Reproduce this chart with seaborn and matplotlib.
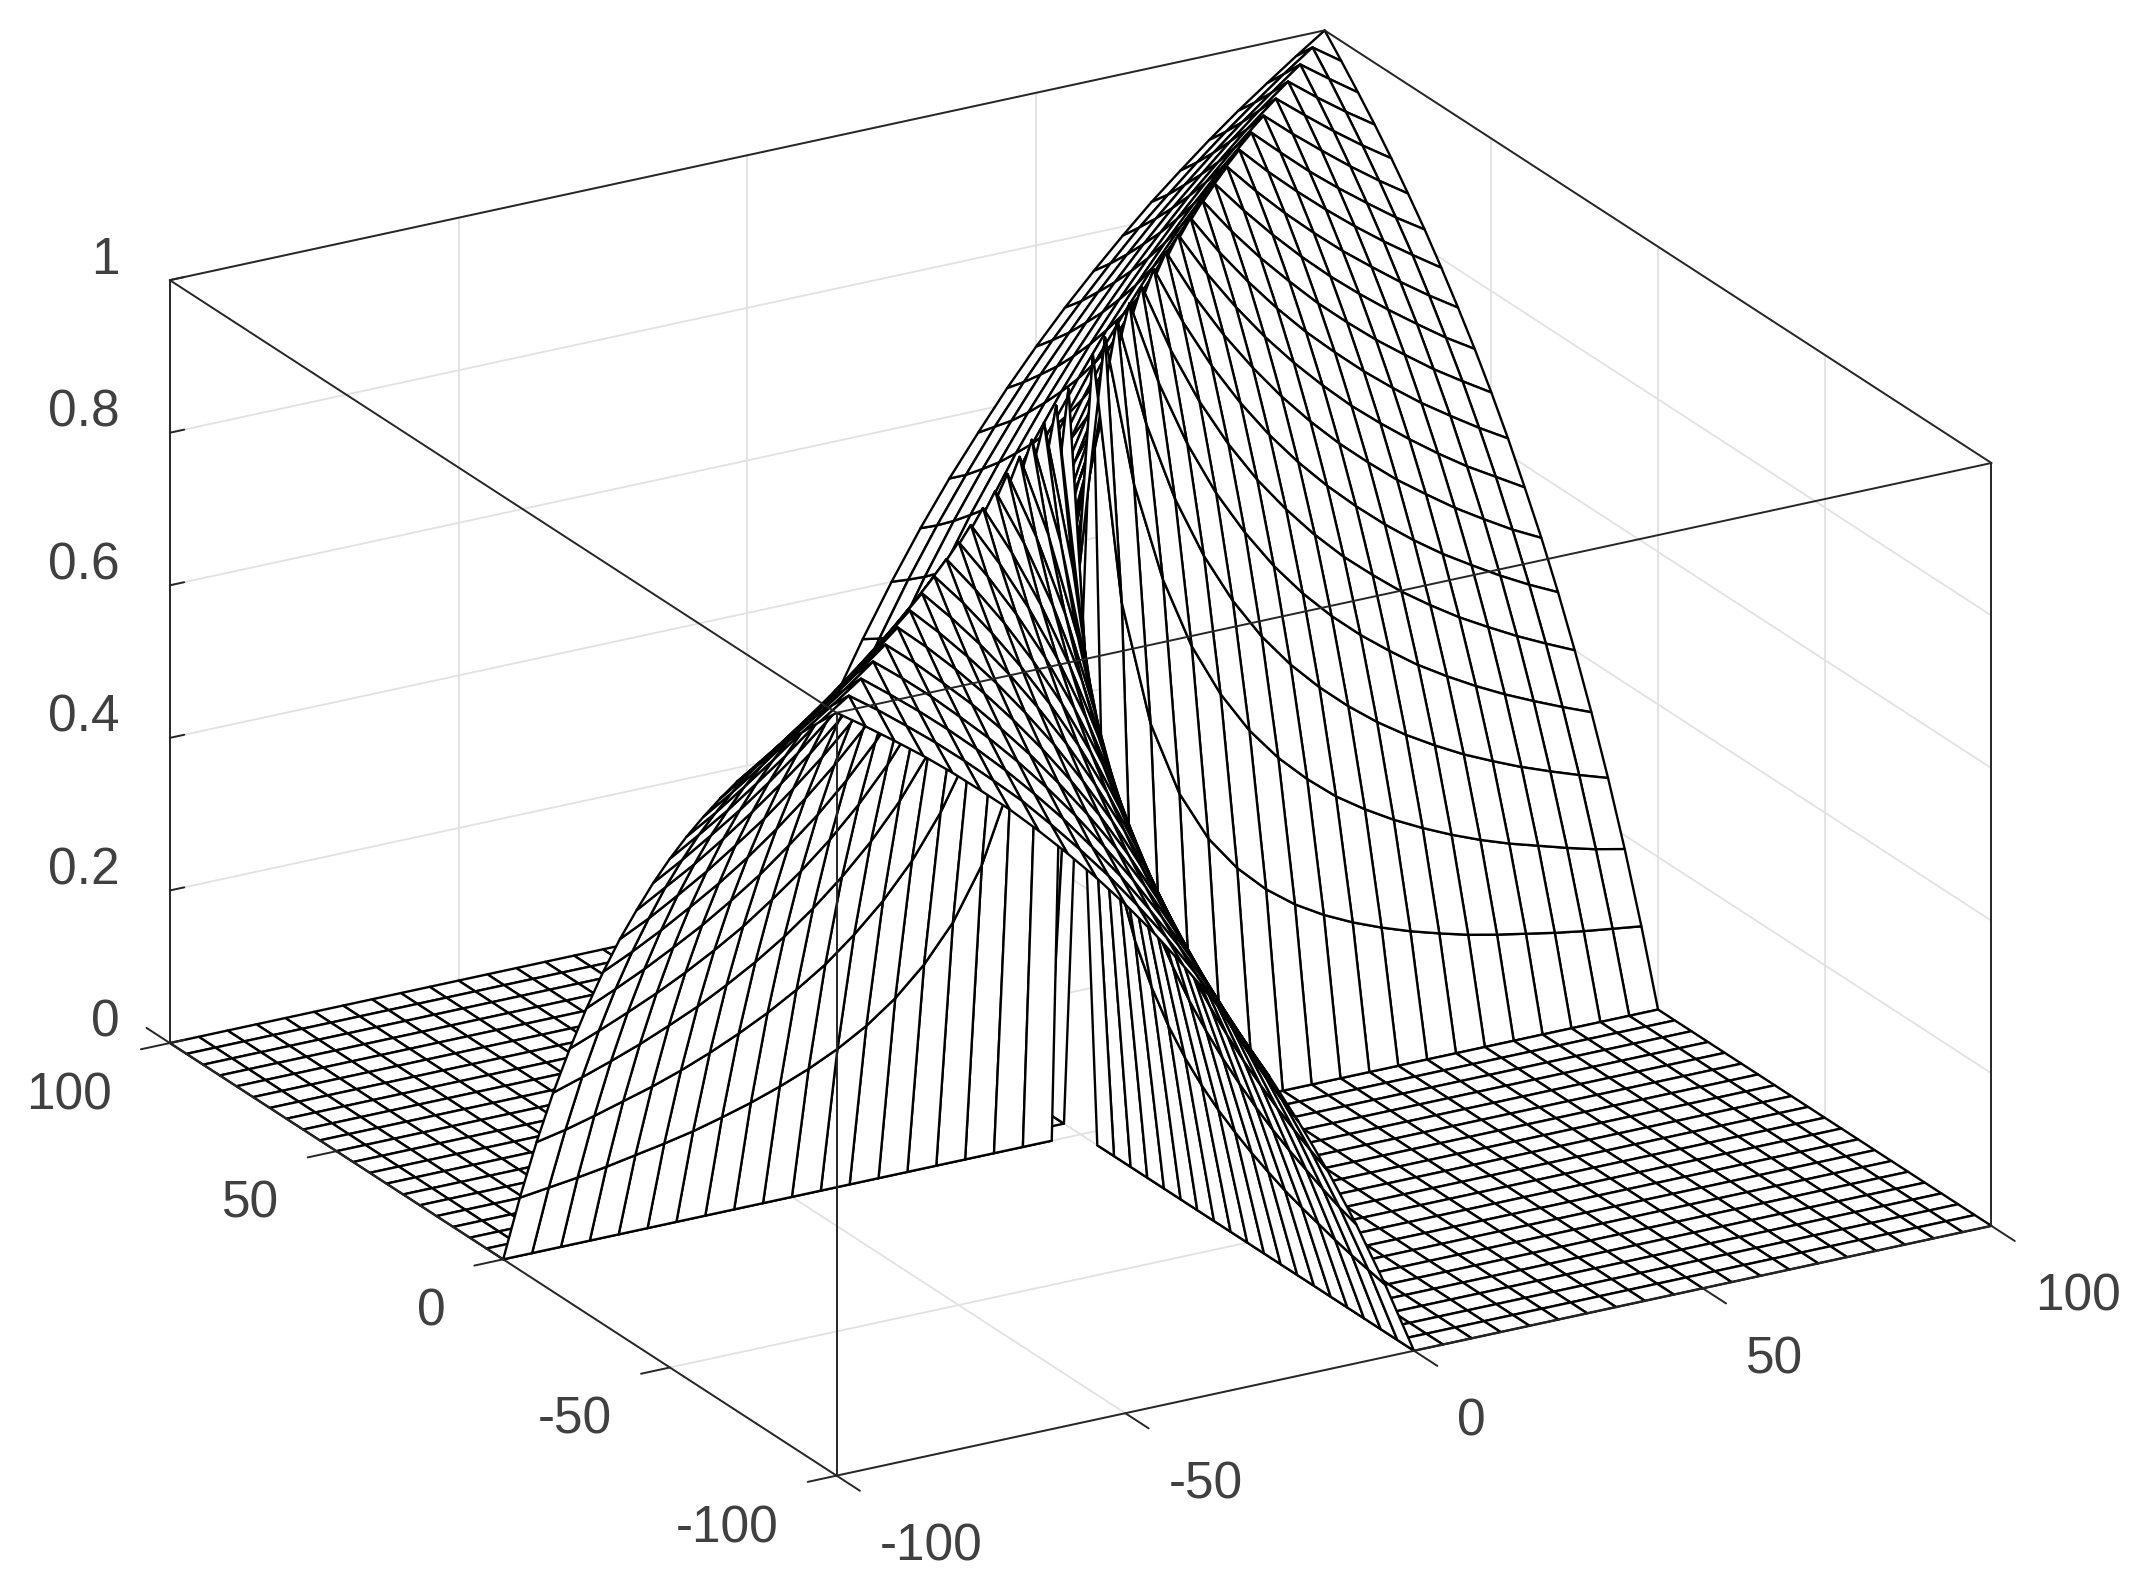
import numpy as np
import matplotlib
matplotlib.use('Agg')
import matplotlib.pyplot as plt
import seaborn as sns
from mpl_toolkits.mplot3d import proj3d
from mpl_toolkits.mplot3d.art3d import Poly3DCollection

x_ticks = [-100, -50, 0, 50, 100]
y_ticks = [-100, -50, 0, 50, 100]
z_ticks = [0, 0.2, 0.4, 0.6, 0.8, 1]
z_labels = ['0', '0.2', '0.4', '0.6', '0.8', '1']

# grid nodes, 5 apart
grid = list(range(-100, 105, 5))

height_rows = [
    [1],
    [.667, 1],
    [.5, .8, 1],
    [.4, .667, .857, 1],
    [.333, .571, .75, .889, 1],
    [.286, .5, .667, .8, .909, 1],
    [.25, .444, .6, .727, .833, .923, 1],
    [.222, .4, .545, .667, .769, .857, .933, 1],
    [.2, .364, .5, .615, .714, .8, .875, .941, 1],
    [.182, .333, .462, .571, .667, .75, .824, .889, .947, 1],
    [.167, .308, .429, .533, .625, .706, .778, .842, .9, .952, 1],
    [.154, .286, .4, .5, .588, .667, .737, .8, .857, .909, .957, 1],
    [.143, .267, .375, .471, .556, .632, .7, .762, .818, .87, .917, .96, 1],
    [.133, .25, .353, .444, .526, .6, .667, .727, .783, .833, .88, .923, .963, 1],
    [.125, .235, .333, .421, .5, .571, .636, .696, .75, .8, .846, .889, .929, .966, 1],
    [.118, .222, .316, .4, .476, .545, .609, .667, .72, .769, .815, .857, .897, .933, .968, 1],
    [.111, .211, .3, .381, .455, .522, .583, .64, .692, .741, .786, .828, .867, .903, .938, .97, 1],
    [.105, .2, .286, .364, .435, .5, .56, .615, .667, .714, .759, .8, .839, .875, .909, .941, .971, 1],
    [.1, .19, .273, .348, .417, .48, .538, .593, .643, .69, .733, .774, .813, .848, .882, .914, .944, .973, 1],
    [.095, .182, .261, .333, .4, .462, .519, .571, .621, .667, .71, .75, .788, .824, .857, .889, .919, .947, .974, 1],
]


def height(x, y):
    if x == 0 and y == 0:
        return np.nan  # no value at the origin, the mesh has a hole there
    if x * y <= 0:
        return 0.0
    a, b = sorted([abs(x) // 5, abs(y) // 5])
    return height_rows[b - 1][a - 1]


sns.set_theme(style='white', rc={'figure.facecolor': 'white'})
plt.rcParams['font.family'] = ['Liberation Sans', 'DejaVu Sans']

fig = plt.figure(figsize=(21.48, 15.91), dpi=100)
ax = fig.add_axes([-0.0361, -0.2011, 1.05, 1.4173], projection='3d', computed_zorder=False)
ax.set_proj_type('ortho')
ax.view_init(elev=22, azim=-120)
ax.set_box_aspect((1, 1, 0.617), zoom=0.8858)
ax.set_xlim(-100, 100)
ax.set_ylim(-100, 100)
ax.set_zlim(0, 1)
ax.set_axis_off()
ax.apply_aspect()

# light grid on the floor and the two back walls
grid_col = '#e2e2e2'
for t in x_ticks:
    ax.plot([t, t], [-100, 100], [0, 0], color=grid_col, lw=1.3, zorder=1)
    ax.plot([t, t], [100, 100], [0, 1], color=grid_col, lw=1.3, zorder=1)
for t in y_ticks:
    ax.plot([-100, 100], [t, t], [0, 0], color=grid_col, lw=1.3, zorder=1)
    ax.plot([100, 100], [t, t], [0, 1], color=grid_col, lw=1.3, zorder=1)
for t in z_ticks:
    ax.plot([-100, 100], [100, 100], [t, t], color=grid_col, lw=1.3, zorder=1)
    ax.plot([100, 100], [-100, 100], [t, t], color=grid_col, lw=1.3, zorder=1)

# white faces hide what is behind, like mesh()
cells = []
for i in range(len(grid) - 1):
    for j in range(len(grid) - 1):
        corners = [(grid[i], grid[j]), (grid[i + 1], grid[j]),
                   (grid[i + 1], grid[j + 1]), (grid[i], grid[j + 1])]
        cell = [(cx, cy, height(cx, cy)) for cx, cy in corners]
        if not any(np.isnan(c[2]) for c in cell):
            cells.append(cell)
mesh = Poly3DCollection(cells, facecolor='white', edgecolor='black', linewidth=1.7, zorder=2)
ax.add_collection3d(mesh)

# box edges
box_col = '#262626'
edges = [
    ([-100, -100], [100, 100], [0, 1]),
    ([100, 100], [-100, -100], [0, 1]),
    ([-100, -100], [-100, -100], [0, 1]),
    ([-100, -100], [-100, 100], [0, 0]),
    ([-100, 100], [-100, -100], [0, 0]),
    ([-100, -100], [-100, 100], [1, 1]),
    ([-100, 100], [-100, -100], [1, 1]),
    ([-100, 100], [100, 100], [1, 1]),
    ([100, 100], [-100, 100], [1, 1]),
]
for ex, ey, ez in edges:
    ax.plot(ex, ey, ez, color=box_col, lw=1.4, zorder=3)


def tick_label(x, y, z, s, ha):
    # place the label on the canvas so it lands where the 3D point is drawn
    px, py, _ = proj3d.proj_transform(x, y, z, ax.get_proj())
    ax.text2D(px, py, s, transform=ax.transData, ha=ha, va='center',
              fontsize=37, color='#404040')


# ticks and their labels
for t in x_ticks:
    ax.plot([t, t], [-100, -107], [0, 0], color=box_col, lw=1.4, zorder=3)
    tick_label(t, -113, -0.057, str(t), 'left')
for t in y_ticks:
    ax.plot([-100, -105], [t, t], [0, 0], color=box_col, lw=1.4, zorder=3)
    tick_label(-110, t, -0.053, str(t), 'right')
for t, lab in zip(z_ticks, z_labels):
    ax.plot([-100, -97.5], [100, 100], [t, t], color=box_col, lw=1.4, zorder=3)
    tick_label(-108.7, 100, t + 0.04, lab, 'right')
ax.plot([-100, -100], [100, 107], [0, 0], color=box_col, lw=1.4, zorder=3)

fig.savefig('out.png', dpi=100, facecolor='white')
